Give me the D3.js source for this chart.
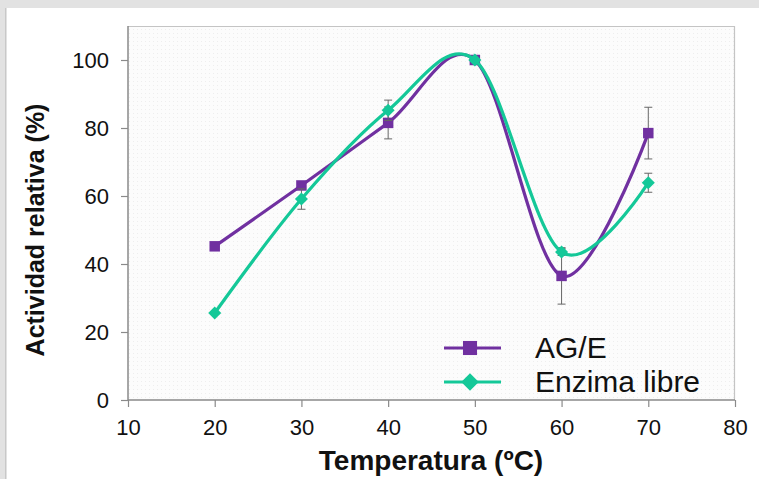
<!DOCTYPE html>
<html>
<head>
<meta charset="utf-8">
<script src="https://cdn.jsdelivr.net/npm/d3@7"></script>
<style>
  html, body { margin: 0; padding: 0; background: #fff; }
  svg { display: block; }
</style>
</head>
<body>
<svg id="chart" width="759" height="479"></svg>
<script>
const temps = [20, 30, 40, 50, 60, 70]
const ageValues = [45.2, 63.1, 81.5, 100, 36.5, 78.5]
const ageErrors = [0, 0, 4.7, 0, 8.3, 7.6]
const libreValues = [25.6, 59.1, 85.2, 100, 43.5, 63.9]
const libreErrors = [0, 3, 3, 0, 1, 2.8]
const xTicks = [10, 20, 30, 40, 50, 60, 70, 80]
const yTicks = [0, 20, 40, 60, 80, 100]

const svg = d3.select('#chart')
const margin = { left: 128, right: 24, top: 26, bottom: 79 }
const width = 759, height = 479
const font = '"Liberation Sans", Arial, sans-serif'

// window frame
svg.append('rect').attr('x', 0).attr('y', 0).attr('width', width).attr('height', 8).attr('fill', '#e2e2e2')
svg.append('rect').attr('x', 0).attr('y', 0).attr('width', 7).attr('height', height).attr('fill', '#e2e2e2')
svg.append('line').attr('x1', 5.5).attr('x2', 5.5).attr('y1', 8).attr('y2', height)
    .attr('stroke', '#c8c8c8').attr('stroke-width', 1)

const defs = svg.append('defs')
defs.append('pattern').attr('id', 'dots').attr('width', 4).attr('height', 4)
    .attr('patternUnits', 'userSpaceOnUse')
  .append('rect').attr('x', 1).attr('y', 1).attr('width', 1).attr('height', 1).attr('fill', '#eeeeee')

const x = d3.scaleLinear().domain([10, 80]).range([margin.left, width - margin.right])
const y = d3.scaleLinear().domain([0, 100]).range([400, 60])

const plotTop = margin.top
svg.append('rect').attr('x', x(10)).attr('y', plotTop).attr('width', x(80) - x(10)).attr('height', y(0) - plotTop)
    .attr('fill', '#fcfcfc')
svg.append('rect').attr('x', x(10)).attr('y', plotTop).attr('width', x(80) - x(10)).attr('height', y(0) - plotTop)
    .attr('fill', 'url(#dots)')
// top / right border
svg.append('path').attr('d', `M${x(10)},${plotTop + 0.5}H${x(80) - 0.5}V${y(0)}`)
    .attr('fill', 'none').attr('stroke', '#c4c4c4').attr('stroke-width', 1.2)

const xAxis = svg.append('g').attr('transform', `translate(0,${y(0)})`)
    .call(d3.axisBottom(x).tickValues(xTicks).tickSize(7).tickPadding(12))
const yAxis = svg.append('g').attr('transform', `translate(${x(10)},0)`)
    .call(d3.axisLeft(y).tickValues(yTicks).tickSize(7).tickPadding(12))

;[xAxis, yAxis].forEach(g => {
    g.attr('font-size', 22).attr('font-family', font)
    g.select('.domain').attr('stroke', '#8a8a8a').attr('stroke-width', 1.5)
    g.selectAll('.tick line').attr('stroke', '#8a8a8a').attr('stroke-width', 1.2)
    g.selectAll('.tick text').attr('fill', '#111')
})
yAxis.select('.domain').attr('d', `M-0,${y(0)}V${plotTop}`)
xAxis.select('.domain').attr('d', `M${x(10)},0H${x(80)}`)

// axis titles
svg.append('text').attr('x', 431).attr('y', 470).attr('text-anchor', 'middle')
    .attr('font-family', font).attr('font-weight', 'bold').attr('font-size', 28).attr('fill', '#111')
    .text('Temperatura (ºC)')
svg.append('text').attr('transform', 'translate(44,230) rotate(-90)').attr('text-anchor', 'middle')
    .attr('font-family', font).attr('font-weight', 'bold').attr('font-size', 25).attr('fill', '#111')
    .text('Actividad relativa (%)')

const purple = '#7030a0'
const teal = '#14c898'

const series = [
    { name: 'AG/E', values: ageValues, errors: ageErrors, color: purple, size: 110, rot: 0 },
    { name: 'Enzima libre', values: libreValues, errors: libreErrors, color: teal, size: 85, rot: 45 }
]

const line = d3.line()
    .x(d => x(d.t)).y(d => y(d.v))
    .curve(d3.curveCardinal.tension(0))

series.forEach(s => {
    const pts = temps.map((t, i) => ({ t: t, v: s.values[i], e: s.errors[i] }))
    const g = svg.append('g')

    g.selectAll('.err').data(pts.filter(d => d.e > 0)).enter().append('path')
        .attr('class', 'err')
        .attr('d', d => `M${x(d.t)},${y(d.v + d.e)}V${y(d.v - d.e)}M${x(d.t) - 4},${y(d.v + d.e)}h8M${x(d.t) - 4},${y(d.v - d.e)}h8`)
        .attr('stroke', '#666').attr('stroke-width', 1).attr('fill', 'none')

    g.append('path').datum(pts).attr('d', line)
        .attr('fill', 'none').attr('stroke', s.color).attr('stroke-width', 3.2)

    g.selectAll('.mark').data(pts).enter().append('path')
        .attr('class', 'mark')
        .attr('transform', d => `translate(${x(d.t)},${y(d.v)}) rotate(${s.rot})`)
        .attr('d', d3.symbol().type(d3.symbolSquare).size(s.size))
        .attr('fill', s.color)
})

// legend
const legend = svg.append('g')
series.forEach((s, i) => {
    const ly = 348 + i * 34
    legend.append('line').attr('x1', 444).attr('x2', 501).attr('y1', ly).attr('y2', ly)
        .attr('stroke', s.color).attr('stroke-width', 3.2)
    legend.append('path').attr('transform', `translate(470,${ly}) rotate(${s.rot})`)
        .attr('d', d3.symbol().type(d3.symbolSquare).size(s.size * 1.8)).attr('fill', s.color)
    legend.append('text').attr('x', 535).attr('y', ly + 10)
        .attr('font-family', font).attr('font-size', 30)
        .attr('fill', '#111').text(s.name)
})
</script>
</body>
</html>
